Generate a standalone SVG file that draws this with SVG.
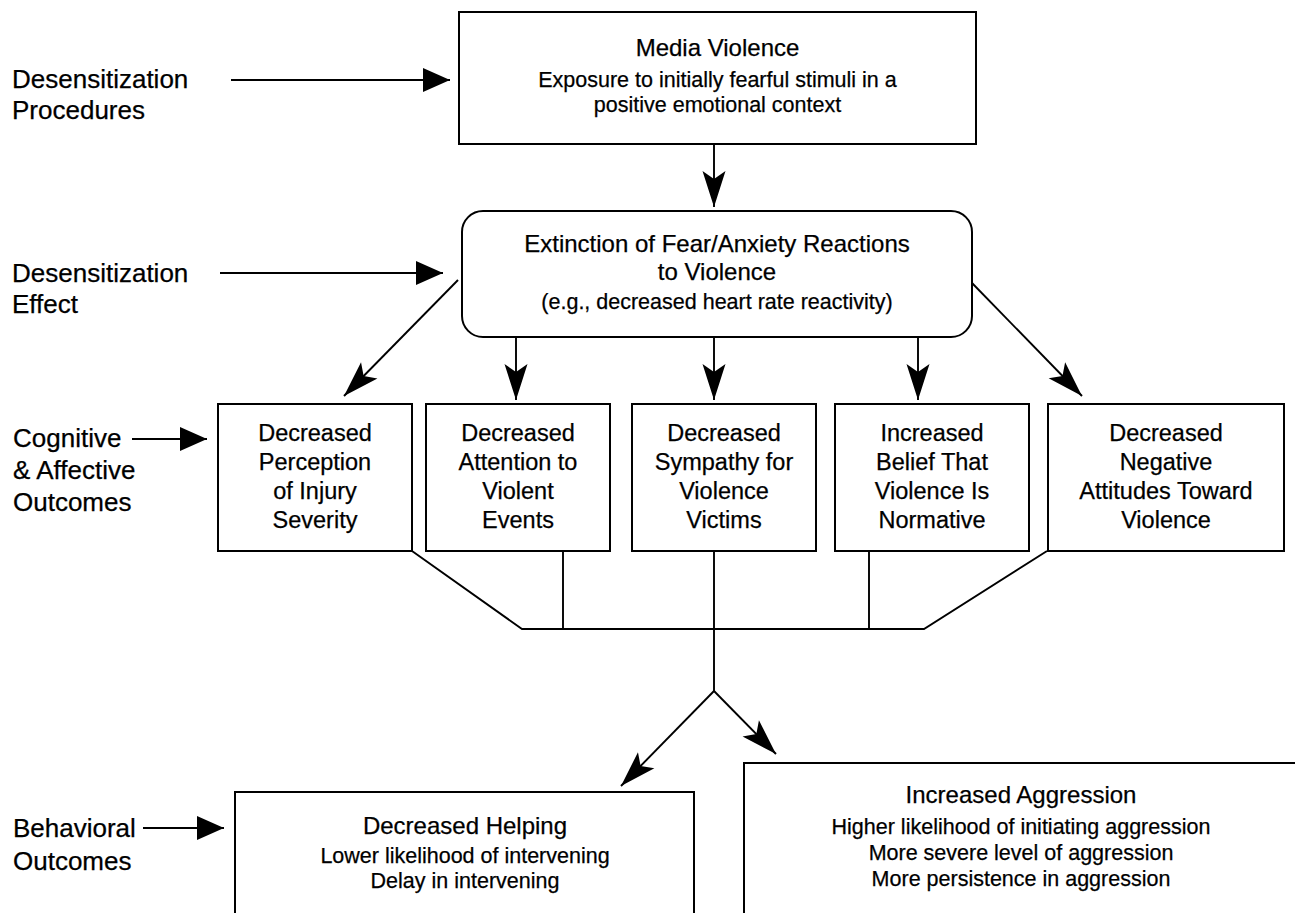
<svg xmlns="http://www.w3.org/2000/svg" width="1295" height="913" viewBox="0 0 1295 913">
<style>
  text { font-family: "Liberation Sans", Arial, sans-serif; fill: #000; stroke: #000; stroke-width: 0.25px; }
  .lbl { font-size: 26px; }
  .ttl { font-size: 24px; text-anchor: middle; }
  .sub { font-size: 21.5px; text-anchor: middle; }
  .box { font-size: 23.5px; text-anchor: middle; }
  .node { fill: #fff; stroke: #000; stroke-width: 2; }
  .conn { fill: none; stroke: #000; stroke-width: 1.9; }
</style>
<defs>
  <marker id="notch" markerUnits="userSpaceOnUse" markerWidth="37" markerHeight="25" refX="36" refY="12" orient="auto" overflow="visible">
    <path d="M36,12 L0,0.5 L8,12 L0,23.5 Z" fill="#000"/>
  </marker>
  <marker id="tri" markerUnits="userSpaceOnUse" markerWidth="28" markerHeight="25" refX="27" refY="12" orient="auto" overflow="visible">
    <path d="M27,12 L0,0 L0,24 Z" fill="#000"/>
  </marker>
</defs>
<rect x="0" y="0" width="1295" height="913" fill="#fff"/>

<g id="label-procedures">
  <text class="lbl" x="12" y="88">Desensitization</text>
  <text class="lbl" x="12" y="119">Procedures</text>
</g>
<g id="label-effect">
  <text class="lbl" x="12" y="282">Desensitization</text>
  <text class="lbl" x="12" y="313">Effect</text>
</g>
<g id="label-cognitive">
  <text class="lbl" x="13" y="447">Cognitive</text>
  <text class="lbl" x="13" y="479">&amp; Affective</text>
  <text class="lbl" x="13" y="511">Outcomes</text>
</g>
<g id="label-behavioral">
  <text class="lbl" x="13" y="837">Behavioral</text>
  <text class="lbl" x="13" y="870">Outcomes</text>
</g>

<g id="media-violence">
  <rect class="node" x="459" y="12" width="517" height="132"/>
  <text class="ttl" x="717.5" y="56">Media Violence</text>
  <text class="sub" x="717.5" y="87">Exposure to initially fearful stimuli in a</text>
  <text class="sub" x="717.5" y="112">positive emotional context</text>
</g>

<g id="extinction">
  <rect class="node" x="462" y="211" width="510" height="126" rx="21" ry="21"/>
  <text class="ttl" x="717" y="252">Extinction of Fear/Anxiety Reactions</text>
  <text class="ttl" x="717" y="280">to Violence</text>
  <text class="sub" x="717" y="309">(e.g., decreased heart rate reactivity)</text>
</g>

<g id="injury">
  <rect class="node" x="218" y="404" width="194" height="147"/>
  <text class="box" x="315" y="441">Decreased</text>
  <text class="box" x="315" y="470">Perception</text>
  <text class="box" x="315" y="499">of Injury</text>
  <text class="box" x="315" y="528">Severity</text>
</g>
<g id="attention">
  <rect class="node" x="426" y="404" width="184" height="147"/>
  <text class="box" x="518" y="441">Decreased</text>
  <text class="box" x="518" y="470">Attention to</text>
  <text class="box" x="518" y="499">Violent</text>
  <text class="box" x="518" y="528">Events</text>
</g>
<g id="sympathy">
  <rect class="node" x="632" y="404" width="184" height="147"/>
  <text class="box" x="724" y="441">Decreased</text>
  <text class="box" x="724" y="470">Sympathy for</text>
  <text class="box" x="724" y="499">Violence</text>
  <text class="box" x="724" y="528">Victims</text>
</g>
<g id="normative">
  <rect class="node" x="835" y="404" width="194" height="147"/>
  <text class="box" x="932" y="441">Increased</text>
  <text class="box" x="932" y="470">Belief That</text>
  <text class="box" x="932" y="499">Violence Is</text>
  <text class="box" x="932" y="528">Normative</text>
</g>
<g id="attitudes">
  <rect class="node" x="1048" y="404" width="236" height="147"/>
  <text class="box" x="1166" y="441">Decreased</text>
  <text class="box" x="1166" y="470">Negative</text>
  <text class="box" x="1166" y="499">Attitudes Toward</text>
  <text class="box" x="1166" y="528">Violence</text>
</g>

<g id="helping">
  <path class="node" d="M235,920 L235,792 L694,792 L694,920"/>
  <text class="ttl" x="465" y="834">Decreased Helping</text>
  <text class="sub" x="465" y="863">Lower likelihood of intervening</text>
  <text class="sub" x="465" y="888">Delay in intervening</text>
</g>
<g id="aggression">
  <path class="node" d="M744,920 L744,763 L1300,763"/>
  <text class="ttl" x="1021" y="803">Increased Aggression</text>
  <text class="sub" x="1021" y="834">Higher likelihood of initiating aggression</text>
  <text class="sub" x="1021" y="860">More severe level of aggression</text>
  <text class="sub" x="1021" y="886">More persistence in aggression</text>
</g>

<g id="connectors">
  <line class="conn" x1="231" y1="80" x2="450" y2="80" marker-end="url(#tri)"/>
  <line class="conn" x1="220" y1="273" x2="443" y2="273" marker-end="url(#tri)"/>
  <line class="conn" x1="132" y1="439" x2="207" y2="439" marker-end="url(#tri)"/>
  <line class="conn" x1="143" y1="828" x2="224" y2="828" marker-end="url(#tri)"/>

  <line class="conn" x1="714" y1="144" x2="714" y2="207" marker-end="url(#notch)"/>
  <line class="conn" x1="458" y1="280" x2="344" y2="396" marker-end="url(#notch)"/>
  <line class="conn" x1="516" y1="337" x2="516" y2="400" marker-end="url(#notch)"/>
  <line class="conn" x1="714" y1="337" x2="714" y2="400" marker-end="url(#notch)"/>
  <line class="conn" x1="918" y1="337" x2="918" y2="400" marker-end="url(#notch)"/>
  <line class="conn" x1="972" y1="283" x2="1082" y2="396" marker-end="url(#notch)"/>

  <polyline class="conn" points="412,551 522,629 924,629 1047,551"/>
  <line class="conn" x1="563" y1="551" x2="563" y2="629"/>
  <line class="conn" x1="714" y1="551" x2="714" y2="691"/>
  <line class="conn" x1="869" y1="551" x2="869" y2="629"/>
  <line class="conn" x1="714" y1="691" x2="621" y2="786" marker-end="url(#notch)"/>
  <line class="conn" x1="714" y1="691" x2="776" y2="754" marker-end="url(#notch)"/>
</g>
</svg>
